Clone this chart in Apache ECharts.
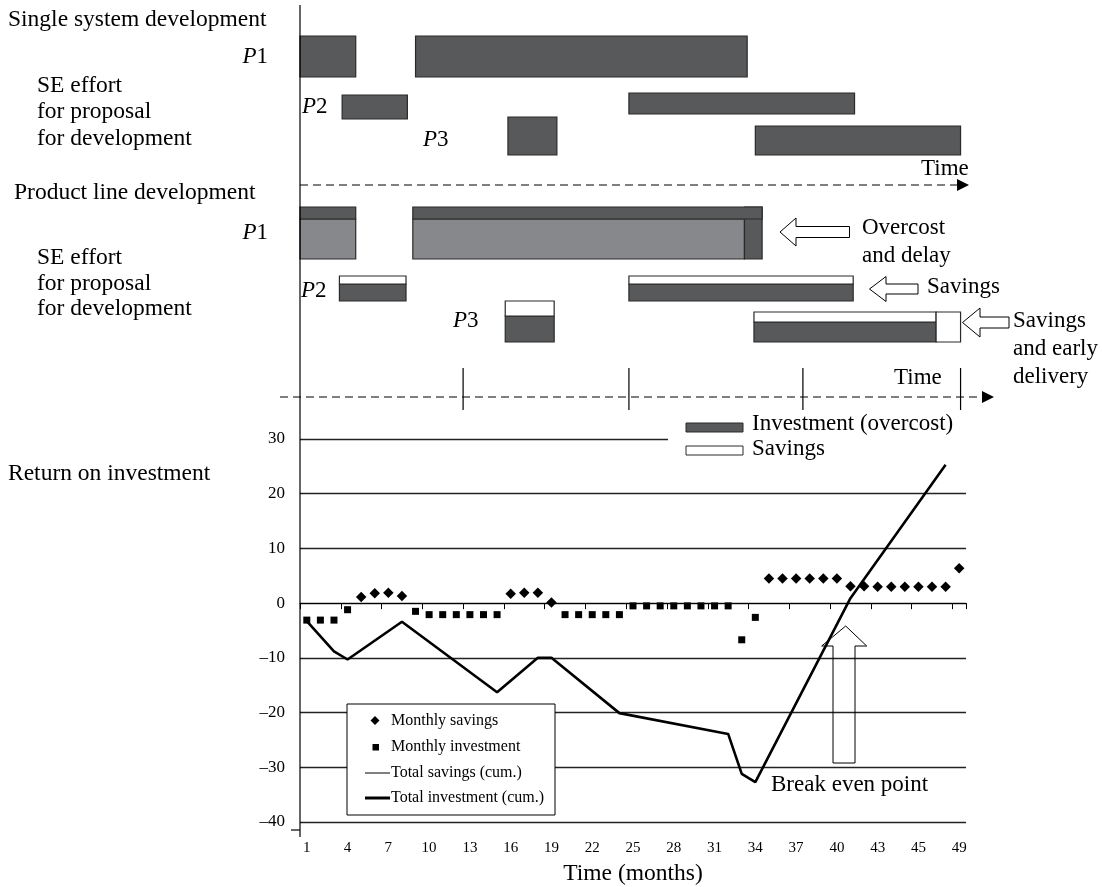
<!DOCTYPE html>
<html>
<head>
<meta charset="utf-8">
<script src="https://cdn.jsdelivr.net/npm/echarts@6/dist/echarts.min.js"></script>
<style>
  html, body { margin: 0; padding: 0; background: #ffffff; }
  #chart { width: 1102px; height: 887px; }
</style>
</head>
<body>
<div id="chart"></div>
<script>
// ---- Data -------------------------------------------------------------
// Month categories of the return-on-investment panel
const months = ['1','2','3','4','5','6','7','8','9','10','11','12','13','14','15','16','17',
  '18','19','20','21','22','23','24','25','26','27','28','29','30','31','32','33','34','35',
  '36','37','38','39','40','41','42','43','44','45','46','47','48','49'];
// Labels printed under every third month
const tickLabels = ['1','4','7','10','13','16','19','22','25','28','31','34','37','40','43','45','49'];

// Monthly savings (diamonds), one entry per month
const monthlySavings = [
  null, null, null, null, 1.1, 1.8, 1.9, 1.3,
  null, null, null, null, null, null, null,
  1.7, 1.9, 1.9, 0.1,
  null, null, null, null, null, null, null, null, null, null, null, null, null, null, null,
  4.5, 4.5, 4.5, 4.5, 4.5, 4.5, 3.1, 3.1, 3.0, 3.0, 3.0, 3.0, 3.0, 3.0, 6.4
];
// Monthly investment (squares)
const monthlyInvestment = [
  -3.1, -3.1, -3.1, -1.2, null, null, null, null,
  -1.5, -2.1, -2.1, -2.1, -2.1, -2.1, -2.1,
  null, null, null, null,
  -2.1, -2.1, -2.1, -2.1, -2.1,
  -0.5, -0.5, -0.5, -0.5, -0.5, -0.5, -0.5, -0.5, -6.7, -2.6,
  null, null, null, null, null, null, null, null, null, null, null, null, null, null, null
];
// Total investment (cumulative), break points of the curve
const totalInvestment = [
  -3.3, null, -8.8, -10.3, null, null, null, -3.4,
  null, null, null, null, null, null, -16.3,
  null, null, -10.0, -10.0,
  null, null, null, null, -20.1,
  null, null, null, null, null, null, null, -23.9, -31.2, -32.7,
  null, null, null, null, null, null, 0.9,
  null, null, null, null, null, null, 25.3, null
];
const legendItems = ['Monthly savings', 'Monthly investment', 'Total savings (cum.)', 'Total investment (cum.)'];

// Single system development: SE effort per project, [start month, end month]
const singleProjects = ['P1', 'P1', 'P2', 'P2', 'P3', 'P3'];
const singleBars = [[0, 4.1], [8.5, 32.9], [3.1, 7.9], [24.2, 40.8], [15.3, 18.9], [33.5, 48.6]];

// Product line development: [start month, planned end, actual end]
const productProjects = ['P1', 'P1', 'P2', 'P2', 'P3', 'P3'];
const productKind = ['overcost', 'overcost', 'savings', 'savings', 'savings', 'savings'];
const productBars = [[0, 4.1, 4.1], [8.3, 32.7, 34.0], [2.9, 7.8, 7.8], [24.2, 40.7, 40.7],
  [15.1, 18.7, 18.7], [33.4, 48.6, 46.8]];

// Milestones marked on the product line time axis
const milestones = [12.0, 24.2, 37.0, 48.6];

// ---- Styling and layout ----------------------------------------------
const SERIF = '"Liberation Serif", "Times New Roman", serif';
const DARK = '#58595b';
const LIGHT = '#87888b';
const EDGE = '#2a2a2a';
const PLOT_LEFT = 300, PLOT_WIDTH = 666;

// Vertical lanes [top, bottom] of the single-system bars
const singleLanes = [[36, 77], [36, 77], [95, 119], [93, 114], [117, 155], [126, 155]];
// Vertical lanes [top, band bottom, bottom] of the product-line bars
const productLanes = [[207, 219, 259], [207, 219, 259], [276, 284, 301], [276, 284, 301],
  [301, 316, 342], [312, 322, 342]];

function xOf(api, v) { return api.coord([v, 0])[0]; }

function renderSingle(params, api) {
  const x0 = xOf(api, api.value(0));
  const x1 = xOf(api, api.value(1));
  const lane = singleLanes[params.dataIndex];
  return {
    type: 'rect',
    shape: { x: x0, y: lane[0], width: x1 - x0, height: lane[1] - lane[0] },
    style: { fill: DARK, stroke: EDGE, lineWidth: 1.2 }
  };
}

function renderProduct(params, api) {
  const i = params.dataIndex;
  const xs = xOf(api, api.value(0));
  const xp = xOf(api, api.value(1));
  const xa = xOf(api, api.value(2));
  const [top, mid, bot] = productLanes[i];
  const st = (fill) => ({ fill: fill, stroke: EDGE, lineWidth: 1.2 });
  const children = [];
  if (productKind[i] === 'overcost') {
    const bodyEnd = Math.min(xp, xa);
    children.push({ type: 'rect', shape: { x: xs, y: mid, width: bodyEnd - xs, height: bot - mid }, style: st(LIGHT) });
    if (xa > xp) {
      children.push({ type: 'rect', shape: { x: xp, y: top, width: xa - xp, height: bot - top }, style: st(DARK) });
    }
    children.push({ type: 'rect', shape: { x: xs, y: top, width: Math.max(xa, xp) - xs, height: mid - top }, style: st(DARK) });
  } else {
    const end = Math.min(xp, xa);
    children.push({ type: 'rect', shape: { x: xs, y: mid, width: end - xs, height: bot - mid }, style: st(DARK) });
    children.push({ type: 'rect', shape: { x: xs, y: top, width: end - xs, height: mid - top }, style: st('#ffffff') });
    if (xa < xp) {
      children.push({ type: 'rect', shape: { x: xa, y: top, width: xp - xa, height: bot - top }, style: st('#ffffff') });
    }
  }
  return { type: 'group', children: children };
}

function renderMilestone(params, api) {
  const x = xOf(api, api.value(0));
  return { type: 'line', shape: { x1: x, y1: 368, x2: x, y2: 410 }, style: { stroke: '#000', lineWidth: 1.2 } };
}

// ---- Text and decorations --------------------------------------------
function txt(text, x, y, size, align, extra) {
  return Object.assign({
    type: 'text', x: x, y: y, z: 50,
    style: { text: text, fontFamily: SERIF, fontSize: size, fill: '#000', align: align || 'left', verticalAlign: 'middle' }
  }, extra || {});
}
function pLabel(num, x, y, align) {
  return {
    type: 'text', x: x, y: y, z: 50,
    style: {
      text: '{i|P}' + num, fontFamily: SERIF, fontSize: 23, fill: '#000',
      align: align || 'left', verticalAlign: 'middle',
      rich: { i: { fontStyle: 'italic', fontFamily: SERIF, fontSize: 23, fill: '#000' } }
    }
  };
}
function leftArrow(xt, yc, xb, headHalf, shaftHalf, xr) {
  return {
    type: 'polygon', z: 40,
    shape: { points: [[xt, yc], [xb, yc - headHalf], [xb, yc - shaftHalf], [xr, yc - shaftHalf],
      [xr, yc + shaftHalf], [xb, yc + shaftHalf], [xb, yc + headHalf]] },
    style: { fill: '#fff', stroke: '#000', lineWidth: 1 }
  };
}
function dashed(x1, x2, y) {
  return { type: 'line', z: 30, shape: { x1: x1, y1: y, x2: x2, y2: y },
    style: { stroke: '#000', lineWidth: 1.2, lineDash: [8, 5] } };
}
function arrowHead(x, y) {
  return { type: 'polygon', z: 30, shape: { points: [[x, y - 6], [x + 12, y], [x, y + 6]] }, style: { fill: '#000' } };
}

const legendGraphics = [
  { type: 'rect', z: 60, shape: { x: 347, y: 704, width: 208, height: 111 }, style: { fill: '#fff', stroke: '#000', lineWidth: 1 } },
  { type: 'polygon', z: 61, shape: { points: [[375, 716], [379.5, 720.5], [375, 725], [370.5, 720.5]] }, style: { fill: '#000' } },
  { type: 'rect', z: 61, shape: { x: 372.5, y: 744, width: 6.5, height: 6.5 }, style: { fill: '#000' } },
  { type: 'line', z: 61, shape: { x1: 365, y1: 773, x2: 390, y2: 773 }, style: { stroke: '#000', lineWidth: 1 } },
  { type: 'line', z: 61, shape: { x1: 365, y1: 798, x2: 390, y2: 798 }, style: { stroke: '#000', lineWidth: 3 } }
].concat(legendItems.map((name, k) => txt(name, 391, 721 + k * 25.7, 16, 'left', { z: 62 })));

const graphics = [
  // long vertical axis
  { type: 'line', z: 30, shape: { x1: 300, y1: 5, x2: 300, y2: 837 }, style: { stroke: '#000', lineWidth: 1.2 } },
  { type: 'line', z: 30, shape: { x1: 291, y1: 830, x2: 300, y2: 830 }, style: { stroke: '#000', lineWidth: 1.2 } },
  // time axes of the two schedule panels
  dashed(300, 958, 185), arrowHead(957, 185),
  dashed(280, 983, 397), arrowHead(982, 397),
  txt('Time', 921, 169, 23), txt('Time', 894, 378, 23),
  // row captions
  txt('Single system development', 8, 20, 23.5),
  pLabel(1, 268, 57, 'right'),
  txt('SE effort', 37, 86, 23.5), txt('for proposal', 37, 112, 23.5), txt('for development', 37, 139, 23.5),
  pLabel(2, 302, 107), pLabel(3, 423, 140),
  txt('Product line development', 14, 193, 23.5),
  pLabel(1, 268, 233, 'right'),
  txt('SE effort', 37, 258, 23.5), txt('for proposal', 37, 284, 23.5), txt('for development', 37, 309, 23.5),
  pLabel(2, 301, 291), pLabel(3, 453, 321),
  // callouts
  leftArrow(780, 232, 796, 14, 5.5, 849.5),
  txt('Overcost', 862, 228, 23), txt('and delay', 862, 256, 23),
  leftArrow(869.5, 289, 886, 12.5, 5, 918),
  txt('Savings', 927, 287, 23),
  leftArrow(962.5, 322.5, 980, 14.5, 5.5, 1009),
  txt('Savings', 1013, 321, 23), txt('and early', 1013, 349, 23), txt('delivery', 1013, 377, 23),
  // bar legend
  { type: 'rect', z: 40, shape: { x: 686, y: 423, width: 57, height: 9 }, style: { fill: DARK, stroke: EDGE, lineWidth: 1 } },
  { type: 'rect', z: 40, shape: { x: 686, y: 446, width: 57, height: 9 }, style: { fill: '#fff', stroke: EDGE, lineWidth: 1 } },
  txt('Investment (overcost)', 752, 424, 23), txt('Savings', 752, 449, 23),
  { type: 'rect', z: 35, shape: { x: 668, y: 435, width: 300, height: 8 }, style: { fill: '#fff' } },
  // return on investment
  txt('Return on investment', 8, 474, 23.5),
  txt('Break even point', 771, 785, 23),
  { type: 'polygon', z: 40, shape: { points: [[845.7, 626], [866.7, 646], [855, 646], [855, 763], [833, 763], [833, 646], [821.7, 646]] },
    style: { fill: 'none', stroke: '#000', lineWidth: 1 } }
].concat(legendGraphics);

const option = {
  animation: false,
  backgroundColor: '#ffffff',
  textStyle: { fontFamily: SERIF },
  grid: [
    { left: PLOT_LEFT, width: PLOT_WIDTH, top: 439, height: 391 },
    { left: PLOT_LEFT, width: PLOT_WIDTH, top: 7, height: 178 },
    { left: PLOT_LEFT, width: PLOT_WIDTH, top: 200, height: 190 }
  ],
  xAxis: [
    {
      gridIndex: 0, type: 'category', data: months, boundaryGap: true, position: 'bottom',
      axisLine: { show: false, onZero: false }, axisTick: { show: false },
      axisLabel: { interval: 2, margin: 19, fontFamily: SERIF, fontSize: 15, color: '#000',
        formatter: (v, idx) => tickLabels[idx / 3] },
      name: 'Time (months)', nameLocation: 'middle', nameGap: 40,
      nameTextStyle: { fontFamily: SERIF, fontSize: 23.5, color: '#000' }
    },
    {
      gridIndex: 0, type: 'category', data: months, boundaryGap: true, position: 'bottom',
      axisLine: { show: true, onZero: true, lineStyle: { color: '#000', width: 1.2 } },
      axisTick: { show: true, interval: 2, length: 6, lineStyle: { color: '#000', width: 1 } },
      axisLabel: { show: false }
    },
    { gridIndex: 1, type: 'value', min: 0, max: 49, show: false },
    { gridIndex: 2, type: 'value', min: 0, max: 49, show: false }
  ],
  yAxis: [
    {
      gridIndex: 0, type: 'value', min: -40, max: 30, interval: 10,
      axisLine: { show: false }, axisTick: { show: false },
      axisLabel: { margin: 15, fontFamily: SERIF, fontSize: 17, color: '#000',
        formatter: v => (v < 0 ? '\u2013' + Math.abs(v) : String(v)) },
      splitLine: { show: true, lineStyle: { color: '#222', width: 1.3 } }
    },
    { gridIndex: 1, type: 'value', min: 0, max: 1, show: false },
    { gridIndex: 2, type: 'value', min: 0, max: 1, show: false }
  ],
  series: [
    {
      name: legendItems[3], type: 'line', xAxisIndex: 0, yAxisIndex: 0, data: totalInvestment,
      connectNulls: true, symbol: 'none', z: 5,
      lineStyle: { color: '#000', width: 2.6 }
    },
    {
      name: legendItems[0], type: 'scatter', xAxisIndex: 0, yAxisIndex: 0, data: monthlySavings,
      symbol: 'diamond', symbolSize: 10.5, itemStyle: { color: '#000', opacity: 1 }, z: 6
    },
    {
      name: legendItems[1], type: 'scatter', xAxisIndex: 0, yAxisIndex: 0, data: monthlyInvestment,
      symbol: 'rect', symbolSize: 7, itemStyle: { color: '#000', opacity: 1 }, z: 6
    },
    {
      name: 'Single system development', type: 'custom', xAxisIndex: 2, yAxisIndex: 1,
      data: singleBars, renderItem: renderSingle, encode: { x: [0, 1] }, clip: false
    },
    {
      name: 'Product line development', type: 'custom', xAxisIndex: 3, yAxisIndex: 2,
      data: productBars, renderItem: renderProduct, encode: { x: [0, 1, 2] }, clip: false
    },
    {
      name: 'Milestones', type: 'custom', xAxisIndex: 3, yAxisIndex: 2,
      data: milestones.map(m => [m]), renderItem: renderMilestone, encode: { x: 0 }, clip: false, z: 8
    }
  ],
  graphic: graphics
};

const chart = echarts.init(document.getElementById('chart'), null, { renderer: 'canvas' });
chart.setOption(option);
</script>
</body>
</html>
